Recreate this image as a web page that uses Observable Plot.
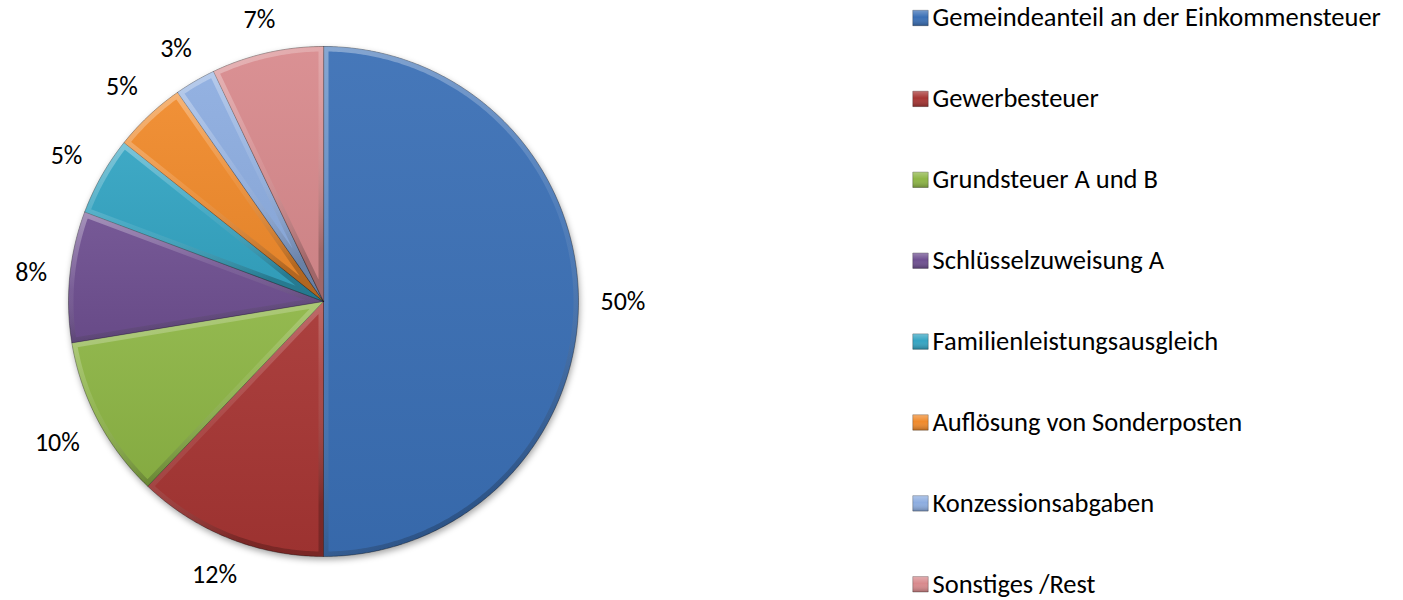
<!DOCTYPE html>
<html><head><meta charset="utf-8">
<script src="https://cdn.jsdelivr.net/npm/d3@7"></script>
<script src="https://cdn.jsdelivr.net/npm/@observablehq/plot@0.6"></script>
<style>body{margin:0;background:#fff;}</style>
</head><body><div id="chart"></div>
<script>
const categories = ["Gemeindeanteil an der Einkommensteuer","Gewerbesteuer","Grundsteuer A und B","Schlüsselzuweisung A","Familienleistungsausgleich","Auflösung von Sonderposten","Konzessionsabgaben","Sonstiges /Rest"];
const shares = [50.0, 12.1, 10.3, 8.3, 5.0, 4.6, 2.6, 7.1];
const palette = ["#3a6fb5","#a63533","#8db545","#6e4f90","#33a4c2","#f08a2b","#8dade0","#d88a8d"];

const W = 1403, H = 600, cx = 323, cy = 301, R = 255;
const FONT = "Carlito, Lato, sans-serif", labelSize = 26, legendSize = 26.5;
const total = d3.sum(shares);
const arcs = d3.pie().sort(null).value(d => d)(shares);
const slicePts = [];
arcs.forEach((a, i) => {
  const cat = categories[i];
  slicePts.push({cat, x: cx, y: cy});
  const n = Math.max(2, Math.ceil((a.endAngle - a.startAngle) / 0.01));
  for (let k = 0; k <= n; k++) {
    const t = a.startAngle + (a.endAngle - a.startAngle) * k / n;
    slicePts.push({cat, x: cx + R * Math.sin(t), y: cy - R * Math.cos(t)});
  }
});
const ctx = document.createElement("canvas").getContext("2d");
ctx.font = `${labelSize}px ${FONT}`;
const labels = arcs.map((a, i) => {
  const m = (a.startAngle + a.endAngle) / 2;
  const text = Math.round(a.value / total * 100) + "%";
  const w = ctx.measureText(text).width, h = labelSize * 0.7;
  const r = R + 22 + (w / 2) * Math.abs(Math.sin(m)) + (h / 2) * Math.abs(Math.cos(m));
  return {cat: categories[i], text, x: cx + r * Math.sin(m), y: cy - r * Math.cos(m)};
});
const legend = categories.map((c, i) => ({cat: c, x: 920, y: 17.5 + i * 80.9}));

const chart = Plot.plot({
  width: W, height: H, margin: 0,
  x: {domain: [0, W], range: [0, W], axis: null},
  y: {domain: [0, H], range: [0, H], axis: null},
  color: {domain: categories, range: palette},
  style: {fontFamily: FONT, background: "#fff", color: "#000"},
  marks: [
    Plot.line(slicePts, {x: "x", y: "y", z: "cat", fill: "cat", stroke: "rgba(0,0,0,0.35)", strokeWidth: 1, curve: "linear-closed"}),
    Plot.line(slicePts, {x: "x", y: "y", z: "cat", fill: "url(#shade)", stroke: "url(#rim)", strokeWidth: 10, curve: "linear-closed"}),
    Plot.text(labels, {x: "x", y: "y", text: "text", fontSize: labelSize, fill: "#000"}),
    Plot.dot(legend, {x: "x", y: "y", symbol: "square", r: 8.7, fill: "cat", stroke: "rgba(0,0,0,0.35)", strokeWidth: 0.8}),
    Plot.dot(legend, {x: "x", y: "y", symbol: "square", r: 8.7, fill: "url(#shade2)", stroke: "none"}),
    Plot.text(legend, {x: "x", y: "y", text: "cat", dx: 12, textAnchor: "start", fontSize: legendSize, fill: "#000"})
  ]
});
const svg = d3.select(chart);
const defs = svg.insert("defs", ":first-child");
const g = defs.append("linearGradient").attr("id", "shade").attr("x1", 0).attr("y1", 0).attr("x2", 0).attr("y2", 1);
g.append("stop").attr("offset", "0%").attr("stop-color", "#fff").attr("stop-opacity", 0.06);
g.append("stop").attr("offset", "100%").attr("stop-color", "#000").attr("stop-opacity", 0.06);
const rim = defs.append("linearGradient").attr("id", "rim").attr("x1", 0).attr("y1", 0).attr("x2", 0.3).attr("y2", 1);
rim.append("stop").attr("offset", "0%").attr("stop-color", "#fff").attr("stop-opacity", 0.35);
rim.append("stop").attr("offset", "55%").attr("stop-color", "#fff").attr("stop-opacity", 0.08);
rim.append("stop").attr("offset", "100%").attr("stop-color", "#000").attr("stop-opacity", 0.22);
const g2 = defs.append("linearGradient").attr("id", "shade2").attr("x1", 0).attr("y1", 0).attr("x2", 0).attr("y2", 1);
g2.append("stop").attr("offset", "0%").attr("stop-color", "#fff").attr("stop-opacity", 0.3);
g2.append("stop").attr("offset", "45%").attr("stop-color", "#fff").attr("stop-opacity", 0);
g2.append("stop").attr("offset", "100%").attr("stop-color", "#000").attr("stop-opacity", 0.25);
const layers = svg.selectAll("g[aria-label='line']").nodes();
d3.select(layers[0]).style("filter", "drop-shadow(1px 3px 3px rgba(0,0,0,0.35))");
d3.select(layers[1]).selectAll("path").each(function(_, i) {
  const id = "clip" + i;
  defs.append("clipPath").attr("id", id).append("path").attr("d", d3.select(this).attr("d"));
  d3.select(this).attr("clip-path", `url(#${id})`);
});
document.getElementById("chart").append(chart);
</script>
</body></html>
